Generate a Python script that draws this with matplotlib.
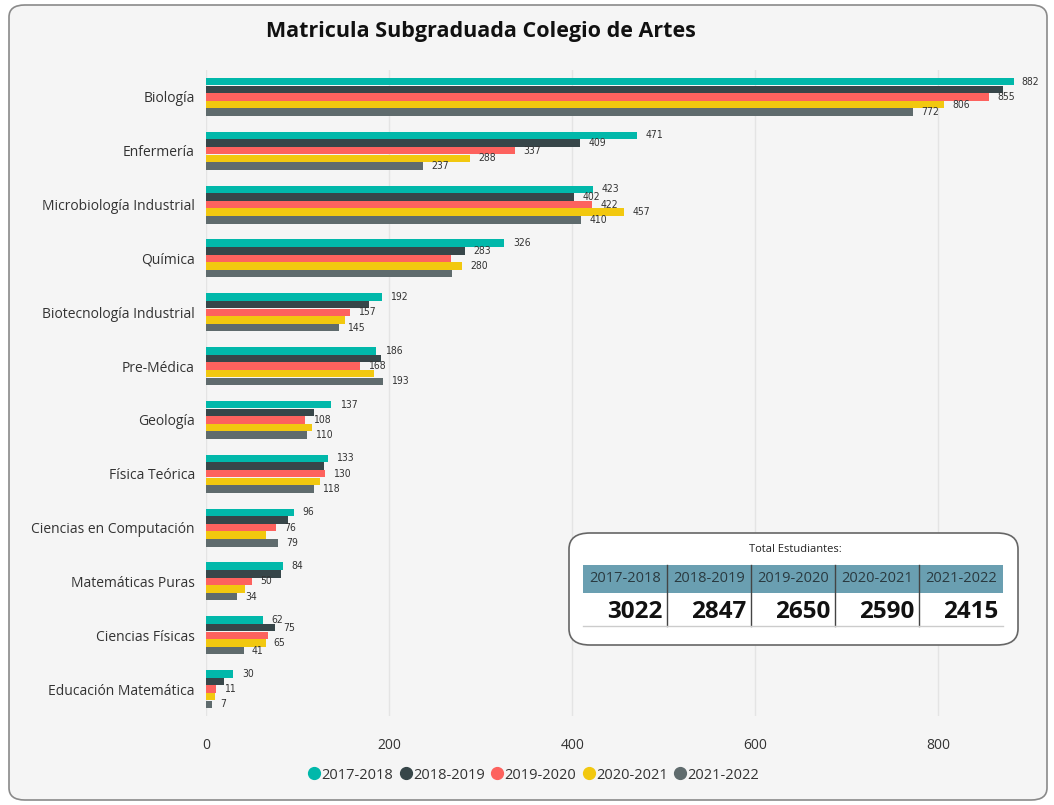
import matplotlib
matplotlib.use("Agg")
import matplotlib.pyplot as plt
from matplotlib.patches import FancyBboxPatch, Rectangle
from matplotlib.lines import Line2D
import numpy as np

plt.rcParams['font.family'] = ['Open Sans', 'DejaVu Sans']

categories = ["Biología", "Enfermería", "Microbiología Industrial", "Química",
              "Biotecnología Industrial", "Pre-Médica", "Geología", "Física Teórica",
              "Ciencias en Computación", "Matemáticas Puras", "Ciencias Físicas",
              "Educación Matemática"]
series_names = ["2017-2018", "2018-2019", "2019-2020", "2020-2021", "2021-2022"]
v2017 = [882, 471, 423, 326, 192, 186, 137, 133, 96, 84, 62, 30]
v2018 = [871, 409, 402, 283, 178, 191, 118, 129, 90, 82, 75, 20]
v2019 = [855, 337, 422, 268, 157, 168, 108, 130, 76, 50, 68, 11]
v2020 = [806, 288, 457, 280, 152, 183, 116, 124, 66, 43, 65, 10]
v2021 = [772, 237, 410, 269, 145, 193, 110, 118, 79, 34, 41, 7]
totals = [3022, 2847, 2650, 2590, 2415]
xticks = [0, 200, 400, 600, 800]
# (category index, series index) whose value labels are not shown
hidden_labels = [(0, 1), (3, 2), (3, 4), (4, 1), (4, 3), (5, 1), (5, 3), (6, 1), (6, 3),
                 (7, 1), (7, 3), (8, 1), (8, 3), (9, 1), (9, 3), (10, 2), (11, 1), (11, 3)]

colors = ["#01B8AA", "#374649", "#FD625E", "#F2C80F", "#5F6B6D"]
all_vals = [v2017, v2018, v2019, v2020, v2021]

W, H = 1054, 805
fig = plt.figure(figsize=(W / 100, H / 100), dpi=100)
fig.patch.set_facecolor("white")

def fx(px):
    return px / W

def fy(py):
    return 1 - py / H

card = FancyBboxPatch((fx(9), fy(800)), fx(1038), 795 / H,
                      boxstyle="round,pad=0,rounding_size=0.015",
                      transform=fig.transFigure, facecolor="#f5f5f5",
                      edgecolor="#8a8a8a", linewidth=1.2, zorder=-5)
fig.patches.append(card)

fig.text(fx(481), fy(31), "Matricula Subgraduada Colegio de Artes", ha="center",
         va="center", fontsize=15.5, fontweight="bold", color="#111111")

ax = fig.add_axes([fx(206), fy(716), fx(1030 - 206), (716 - 70) / H])
ax.set_zorder(1)
ax.patch.set_alpha(0)
n = len(categories)
y = np.arange(n)
bh = 0.142
for j, (vals, c) in enumerate(zip(all_vals, colors)):
    offs = (j - 2) * bh
    ax.barh(y + offs, vals, height=bh * 0.98, color=c, zorder=3, label=series_names[j])
    for i, v in enumerate(vals):
        if (i, j) in hidden_labels:
            continue
        ax.annotate(str(v), (v, y[i] + offs), xytext=(6, 0), textcoords="offset points",
                    ha="left", va="center", fontsize=7.5, color="#333333",
                    family=["DejaVu Sans"], fontstretch="condensed")

ax.set_xlim(0, 900)
ax.set_ylim(n - 0.5, -0.5)
ax.set_yticks(y)
ax.set_yticklabels(categories, fontsize=10, color="#333333")
ax.set_xticks(xticks)
ax.set_xticklabels([str(t) for t in xticks], fontsize=10, color="#333333")
ax.tick_params(axis="both", length=0)
ax.tick_params(axis="y", pad=8)
ax.tick_params(axis="x", pad=16)
for s in ax.spines.values():
    s.set_visible(False)
ax.grid(axis="x", color="#e4e4e4", linewidth=1, zorder=0)
ax.set_axisbelow(True)

# Legend
handles = [Line2D([0], [0], marker="o", linestyle="none", markersize=8.5,
                  markerfacecolor=c, markeredgecolor=c) for c in colors]
fig.legend(handles, series_names, loc="center", bbox_to_anchor=(fx(533), fy(775)),
           ncol=5, frameon=False, fontsize=10.5, handletextpad=0.0, columnspacing=0.35,
           handlelength=1.0, labelcolor="#333333")

# Totals table
box = FancyBboxPatch((fx(569), fy(645)), fx(1018 - 569), (645 - 533) / H,
                     boxstyle="round,pad=0,rounding_size=0.02",
                     transform=fig.transFigure, facecolor="white",
                     edgecolor="#666666", linewidth=1.2, zorder=5)
fig.patches.append(box)
fig.text(fx(795), fy(550), "Total Estudiantes:", ha="center", va="center",
         fontsize=8, color="#222222", zorder=6)
x0, x1 = 583, 1003
cw = (x1 - x0) / 5
for k, (name, tot) in enumerate(zip(series_names, totals)):
    cx = x0 + k * cw
    r = Rectangle((fx(cx), fy(593)), fx(cw), 28 / H, transform=fig.transFigure,
                  facecolor="#6A9FB1", edgecolor="none", zorder=6)
    fig.patches.append(r)
    fig.text(fx(cx + cw / 2), fy(578), name, ha="center", va="center", fontsize=10.5,
             color="#2a3a40", zorder=7)
    fig.text(fx(cx + cw - 5), fy(612), str(tot), ha="right", va="center", fontsize=17.5,
             fontweight="bold", color="#111111", zorder=7)
    if k > 0:
        fig.add_artist(Line2D([fx(cx), fx(cx)], [fy(565), fy(626)], transform=fig.transFigure,
                              color="#444444", linewidth=1, zorder=8))
fig.add_artist(Line2D([fx(x0), fx(x1)], [fy(626), fy(626)], transform=fig.transFigure,
                      color="#cccccc", linewidth=1, zorder=8))

fig.savefig("out.png", dpi=100, facecolor="white")
